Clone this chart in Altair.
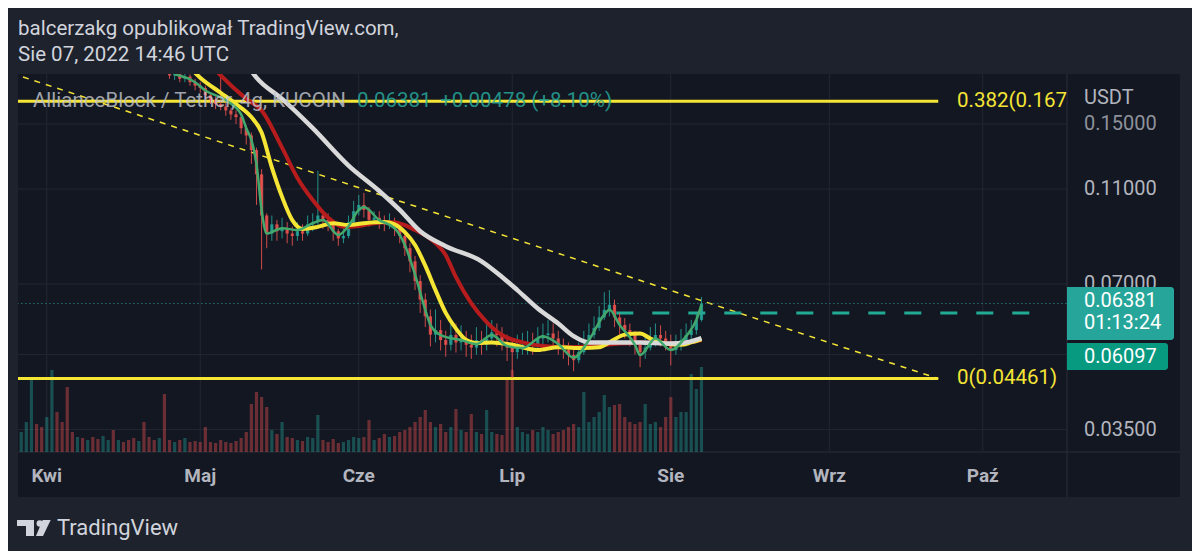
import altair as alt
import pandas as pd

# ---------------- texts ----------------
HEADER_1 = "balcerzakg opublikował TradingView.com,"
HEADER_2 = "Sie 07, 2022 14:46 UTC"
SYMBOL = "AllianceBlock / Tether, 4g, KUCOIN"
LAST_PRICE_TXT = "0.06381"
CHANGE_TXT = "+0.00478 (+8.10%)"
COUNTDOWN_TXT = "01:13:24"
LINE_PRICE_TXT = "0.06097"
FIB_TOP_TXT = "0.382(0.167"
FIB_BOT_TXT = "0(0.04461)"
CURRENCY = "USDT"
BRAND = "TradingView"
MONTHS_PL = ['Sty', 'Lut', 'Mar', 'Kwi', 'Maj', 'Cze', 'Lip', 'Sie', 'Wrz', 'Paź', 'Lis', 'Gru']
MONTH_TICKS = ["2022-04-01", "2022-05-01", "2022-06-01", "2022-07-01", "2022-08-01", "2022-09-01", "2022-10-01"]
PRICE_TICKS = [0.15, 0.11, 0.07, 0.05, 0.035]
PRICE_TICK_SHOWN = [True, True, True, False, True]

# ---------------- daily candles, 27 Mar .. 7 Aug 2022 ----------------
first_open = 0.255
closes = [0.262, 0.275, 0.290, 0.284, 0.270,
          0.281, 0.296, 0.288, 0.279, 0.268, 0.252, 0.256, 0.247, 0.251, 0.244,
          0.228, 0.233, 0.238, 0.231, 0.234, 0.229, 0.225, 0.219, 0.224, 0.215,
          0.208, 0.204, 0.207, 0.197, 0.189, 0.191, 0.186, 0.188, 0.183, 0.180,
          0.178, 0.172, 0.168, 0.165, 0.163, 0.160, 0.157, 0.155, 0.147, 0.142,
          0.1325, 0.118, 0.097, 0.089, 0.093, 0.090, 0.091, 0.089, 0.088, 0.090,
          0.089, 0.093, 0.094, 0.097, 0.095, 0.094, 0.090, 0.087, 0.088, 0.094, 0.099,
          0.102, 0.0996, 0.095, 0.096, 0.094, 0.093, 0.094, 0.091, 0.088, 0.083,
          0.078, 0.071, 0.065, 0.060, 0.055, 0.0562, 0.0536, 0.0524, 0.0549, 0.053,
          0.054, 0.0524, 0.0517, 0.0536, 0.0524, 0.054, 0.0556, 0.0549, 0.053, 0.0517,
          0.0506, 0.0517, 0.0524, 0.0527, 0.0524, 0.054, 0.0549, 0.0553, 0.054, 0.0524,
          0.0511, 0.0499, 0.0487, 0.0506, 0.0524, 0.0549, 0.0568, 0.0597, 0.0619, 0.0634,
          0.0597, 0.0576, 0.0562, 0.0549, 0.0524, 0.0506, 0.0517, 0.054, 0.0549, 0.054, 0.053,
          0.0511, 0.0524, 0.0536, 0.0549, 0.0562, 0.0590, 0.06381]
highs = [0.270, 0.282, 0.300, 0.295, 0.288,
         0.290, 0.310, 0.300, 0.292, 0.283, 0.270, 0.262, 0.259, 0.255, 0.254,
         0.246, 0.238, 0.242, 0.240, 0.238, 0.236, 0.231, 0.227, 0.228, 0.228,
         0.218, 0.211, 0.210, 0.209, 0.199, 0.194, 0.193, 0.191, 0.190, 0.186,
         0.183, 0.180, 0.174, 0.171, 0.187, 0.166, 0.162, 0.160, 0.157, 0.149,
         0.144, 0.134, 0.121, 0.098, 0.097, 0.095, 0.096, 0.094, 0.092, 0.094,
         0.093, 0.097, 0.098, 0.120, 0.099, 0.098, 0.095, 0.091, 0.092, 0.097, 0.104,
         0.107, 0.108, 0.101, 0.099, 0.099, 0.097, 0.098, 0.096, 0.093, 0.090,
         0.085, 0.080, 0.073, 0.067, 0.062, 0.062, 0.059, 0.056, 0.058, 0.058,
         0.0575, 0.056, 0.055, 0.057, 0.056, 0.058, 0.059, 0.058, 0.057, 0.055,
         0.054, 0.055, 0.0555, 0.056, 0.0555, 0.057, 0.058, 0.059, 0.058, 0.056,
         0.054, 0.053, 0.0515, 0.053, 0.056, 0.058, 0.060, 0.063, 0.0673, 0.068,
         0.065, 0.061, 0.0595, 0.058, 0.056, 0.0535, 0.055, 0.057, 0.058, 0.0575, 0.056,
         0.055, 0.055, 0.0565, 0.058, 0.059, 0.061, 0.0658]
lows = [0.250, 0.258, 0.270, 0.278, 0.265,
        0.266, 0.278, 0.283, 0.274, 0.262, 0.246, 0.247, 0.242, 0.244, 0.240,
        0.222, 0.225, 0.229, 0.227, 0.228, 0.226, 0.221, 0.213, 0.216, 0.212,
        0.204, 0.200, 0.201, 0.194, 0.186, 0.185, 0.183, 0.183, 0.180, 0.176,
        0.174, 0.169, 0.165, 0.161, 0.160, 0.156, 0.153, 0.150, 0.143, 0.136,
        0.124, 0.102, 0.075, 0.083, 0.086, 0.086, 0.087, 0.085, 0.084, 0.086,
        0.086, 0.088, 0.090, 0.092, 0.091, 0.090, 0.086, 0.084, 0.085, 0.087, 0.093,
        0.097, 0.096, 0.092, 0.093, 0.091, 0.090, 0.091, 0.088, 0.085, 0.080,
        0.074, 0.068, 0.061, 0.057, 0.052, 0.053, 0.051, 0.0495, 0.051, 0.0505,
        0.051, 0.0495, 0.049, 0.050, 0.050, 0.051, 0.053, 0.052, 0.051, 0.0485,
        0.0448, 0.049, 0.050, 0.050, 0.050, 0.0515, 0.052, 0.053, 0.052, 0.050,
        0.049, 0.0475, 0.0462, 0.048, 0.050, 0.052, 0.054, 0.056, 0.059, 0.060,
        0.057, 0.055, 0.054, 0.052, 0.050, 0.0471, 0.049, 0.051, 0.052, 0.052, 0.051,
        0.0475, 0.050, 0.051, 0.052, 0.053, 0.055, 0.0585]
volumes = [20, 30, 75, 28, 25,
           35, 82, 40, 30, 65, 20, 15, 14, 12, 15, 13, 16, 12, 22, 12, 10, 12, 14, 11, 30,
           15, 12, 14, 58, 12, 10, 12, 14, 10, 11,
           10, 25, 10, 9, 12, 10, 9, 11, 14, 20, 48, 60, 55, 45, 22, 18, 30, 15, 14, 12,
           11, 15, 14, 37, 12, 10, 13, 9, 10, 12, 15,
           14, 15, 32, 12, 14, 18, 15, 16, 20, 22, 25, 30, 35, 42, 30, 25, 28, 20, 25, 43,
           22, 20, 38, 20, 18, 42, 20, 18, 17, 75,
           82, 25, 20, 18, 22, 20, 25, 22, 18, 20, 22, 25, 28, 25, 60, 30, 35, 40, 57, 45,
           47, 48, 35, 30, 28, 30, 48, 28, 30, 25, 35,
           55, 35, 40, 40, 78, 63, 85]

# ---------------- moving averages ----------------
yellow_dates = ["2022-04-29", "2022-05-01", "2022-05-05", "2022-05-08", "2022-05-11", "2022-05-13",
                "2022-05-15", "2022-05-17", "2022-05-19", "2022-05-21", "2022-05-24", "2022-05-27",
                "2022-05-30", "2022-06-02", "2022-06-06", "2022-06-08", "2022-06-10", "2022-06-12",
                "2022-06-14", "2022-06-16", "2022-06-18", "2022-06-20", "2022-06-22", "2022-06-24",
                "2022-06-27", "2022-07-01", "2022-07-06", "2022-07-10", "2022-07-15", "2022-07-18",
                "2022-07-20", "2022-07-23", "2022-07-26", "2022-07-28", "2022-07-31", "2022-08-03",
                "2022-08-05", "2022-08-07"]
yellow_vals = [0.196, 0.187, 0.174, 0.165, 0.155, 0.144, 0.122, 0.106, 0.0949, 0.091, 0.0919, 0.0935,
               0.0927, 0.0935, 0.094, 0.093, 0.0896, 0.0843, 0.0764, 0.068, 0.061, 0.0566, 0.0536,
               0.0528, 0.053, 0.0524, 0.0511, 0.0518, 0.0516, 0.0518, 0.053, 0.055, 0.0553, 0.054,
               0.0527, 0.0524, 0.053, 0.0538]
red_dates = ["2022-05-03", "2022-05-05", "2022-05-10", "2022-05-13", "2022-05-17", "2022-05-20",
             "2022-05-23", "2022-05-26", "2022-05-29", "2022-06-01", "2022-06-04", "2022-06-07",
             "2022-06-10", "2022-06-12", "2022-06-15", "2022-06-18", "2022-06-20", "2022-06-23",
             "2022-06-26", "2022-06-29", "2022-07-03", "2022-07-07", "2022-07-12", "2022-07-17",
             "2022-07-22", "2022-07-28", "2022-08-02", "2022-08-07"]
red_vals = [0.199, 0.189, 0.169, 0.16, 0.134, 0.116, 0.1044, 0.096, 0.0919, 0.0923, 0.0935, 0.094,
            0.0927, 0.0905, 0.0868, 0.0803, 0.0723, 0.0638, 0.0584, 0.0549, 0.053, 0.0521, 0.0518,
            0.0521, 0.0527, 0.053, 0.0527, 0.0536]
white_dates = ["2022-05-10", "2022-05-12", "2022-05-17", "2022-05-23", "2022-05-30", "2022-06-05",
               "2022-06-09", "2022-06-13", "2022-06-18", "2022-06-25", "2022-06-29", "2022-07-02",
               "2022-07-06", "2022-07-10", "2022-07-13", "2022-07-16", "2022-07-20", "2022-07-26",
               "2022-08-01", "2022-08-04", "2022-08-07"]
white_vals = [0.200, 0.187, 0.169, 0.147, 0.123, 0.109, 0.0996, 0.090, 0.0838, 0.078, 0.0724, 0.068,
              0.0623, 0.058, 0.0546, 0.053, 0.053, 0.053, 0.0527, 0.053, 0.0541]
green_dates = ["2022-04-26", "2022-04-30", "2022-05-02", "2022-05-06", "2022-05-09", "2022-05-10",
               "2022-05-11", "2022-05-12", "2022-05-13", "2022-05-14", "2022-05-17", "2022-05-20",
               "2022-05-23", "2022-05-25", "2022-05-28", "2022-05-30", "2022-06-01", "2022-06-02",
               "2022-06-05", "2022-06-08", "2022-06-10", "2022-06-12", "2022-06-14", "2022-06-15",
               "2022-06-17", "2022-06-21", "2022-06-24", "2022-06-27", "2022-06-30", "2022-07-03",
               "2022-07-07", "2022-07-10", "2022-07-13", "2022-07-16", "2022-07-19", "2022-07-20",
               "2022-07-22", "2022-07-25", "2022-07-26", "2022-07-29", "2022-08-01", "2022-08-04",
               "2022-08-06", "2022-08-07"]
green_vals = [0.190, 0.183, 0.176, 0.168, 0.157, 0.147, 0.139, 0.124, 0.0996, 0.089, 0.0913, 0.0905,
              0.0935, 0.0949, 0.0884, 0.0923, 0.0996, 0.101, 0.0949, 0.0913, 0.0843, 0.0732, 0.0619,
              0.0576, 0.0549, 0.0536, 0.0526, 0.0549, 0.0521, 0.0516, 0.0546, 0.0526, 0.0493, 0.0536,
              0.0605, 0.0619, 0.0576, 0.0524, 0.0499, 0.054, 0.0511, 0.0546, 0.059, 0.0634]

# ---------------- drawn levels ----------------
fib_levels = [0.1671, 0.04461]
fib_span = ["2022-03-20T00:00:00", "2022-09-22T07:00:00"]
trend_dates = ["2022-03-27T08:24:00", "2022-09-22T07:00:00"]
trend_prices = [0.1876, 0.04461]
last_price = 0.06381
hline_price = 0.06097
hline_span = ["2022-07-21T08:24:00", "2022-10-12T14:30:00"]

assert len(closes) == len(highs) == len(lows) == len(volumes)

# ---------------- colours ----------------
BG_PANEL = "#131722"
BG_OUTER = "#1e222d"
GRID = "#232733"
SEP = "#2a2e39"
UP = "#26a69a"
DOWN = "#ef5350"
YELLOW = "#f5e535"
TXT = "#d1d4dc"
AX_TXT = "#b2b5be"

# ---------------- frames ----------------
days = pd.date_range("2022-03-27", periods=len(closes), freq="D")
opens = [first_open] + closes[:-1]
candles = pd.DataFrame({
    "date": days.strftime("%Y-%m-%dT%H:%M:%S"),
    "open": opens, "high": highs, "low": lows, "close": closes, "vol": volumes,
    "dir": ["up" if c >= o else "down" for o, c in zip(opens, closes)],
})

def ma_df(dates, vals):
    return pd.DataFrame({"date": [d + "T00:00:00" for d in dates], "v": vals})

ONE = pd.DataFrame({"k": [0]})
month_df = pd.DataFrame({"date": [d + "T00:00:00" for d in MONTH_TICKS],
                         "lab": [MONTHS_PL[int(d[5:7]) - 1] for d in MONTH_TICKS]})
price_tick_df = pd.DataFrame({"p": PRICE_TICKS,
                              "lab": [f"{v:.5f}" if s else "" for v, s in zip(PRICE_TICKS, PRICE_TICK_SHOWN)]})

TIME_SCALE = alt.Scale(domain=[alt.DateTime(year=2022, month=3, date=27, hours=8, minutes=24),
                               alt.DateTime(year=2022, month=10, date=16, hours=11, minutes=45)])
PRICE_SCALE = alt.Scale(type="log", domain=[0.03145, 0.1903], nice=False)
COLOR = alt.Color("dir:N", scale=alt.Scale(domain=["up", "down"], range=[UP, DOWN]), legend=None)

def X(field="date"):
    return alt.X(f"{field}:T", scale=TIME_SCALE, axis=None)

def Y(field):
    return alt.Y(f"{field}:Q", scale=PRICE_SCALE, axis=None)

def rect(x0, x1, y0, y1, color, **kw):
    return alt.Chart(ONE).mark_rect(color=color, **kw).encode(
        x=alt.value(x0), x2=alt.value(x1), y=alt.value(y0), y2=alt.value(y1))

def text(x, y, s, size, color, **kw):
    opts = dict(align="left", baseline="middle", font="Roboto")
    opts.update(kw)
    return alt.Chart(ONE).mark_text(text=s, fontSize=size, color=color, **opts).encode(
        x=alt.value(x), y=alt.value(y))

def vrule(x, y0, y1, color):
    return alt.Chart(ONE).mark_rule(color=color, strokeWidth=1).encode(
        x=alt.value(x), y=alt.value(y0), y2=alt.value(y1))

def hrule(y, x0, x1, color):
    return alt.Chart(ONE).mark_rule(color=color, strokeWidth=1).encode(
        y=alt.value(y), x=alt.value(x0), x2=alt.value(x1))

# ---------------- layers ----------------
frames = alt.layer(
    rect(-10, 1174, -66, 0, BG_OUTER),
    rect(-10, 0, 0, 423, BG_OUTER),
    rect(1162, 1174, 0, 477, BG_OUTER),
    rect(-10, 1174, 423, 477, BG_OUTER),
    vrule(1049, 0, 423, SEP),
    hrule(378, 0, 1162, SEP),
)

# grid + tick labels drawn through the scales
grid_x = alt.Chart(month_df).mark_rule(color=GRID, strokeWidth=1).encode(
    x=X(), y=alt.value(0), y2=alt.value(378))
grid_y = alt.Chart(price_tick_df).mark_rule(color=GRID, strokeWidth=1).encode(
    y=Y("p"), x=alt.value(0), x2=alt.value(1049))
x_labels = alt.Chart(month_df).mark_text(font="Roboto", fontSize=19, fontWeight="bold", color=AX_TXT,
                                         align="center", baseline="middle").encode(
    x=X(), y=alt.value(402), text="lab:N")
y_labels = alt.Chart(price_tick_df).mark_text(font="Roboto", fontSize=20,
                                              align="left", baseline="middle").encode(
    y=Y("p"), x=alt.value(1066), text="lab:N",
    color=alt.condition(alt.datum.p == 0.15, alt.value("#8f929b"), alt.value(AX_TXT)))
grid = alt.layer(grid_x, grid_y)

volume = alt.Chart(candles).mark_bar(size=3.2, opacity=0.4, clip=True).encode(
    x=X(), y=alt.Y("vol:Q", scale=alt.Scale(domain=[0, 378]), axis=None), color=COLOR)

fib_df = pd.DataFrame({"d0": [fib_span[0]] * 2, "d1": [fib_span[1]] * 2, "p": fib_levels})
fib = alt.Chart(fib_df).mark_rule(color=YELLOW, strokeWidth=3, clip=True).encode(
    x=X("d0"), x2="d1:T", y=Y("p"))

trend = alt.Chart(pd.DataFrame({"date": trend_dates, "v": trend_prices})).mark_line(
    color=YELLOW, strokeWidth=1.5, strokeDash=[6, 6], clip=True).encode(x=X(), y=Y("v"))

dotted = alt.Chart(pd.DataFrame({"d0": ["2022-03-20T00:00:00"], "d1": ["2022-10-20T00:00:00"],
                                 "p": [last_price]})).mark_rule(
    color=UP, strokeWidth=1, strokeDash=[1, 3], clip=True).encode(x=X("d0"), x2="d1:T", y=Y("p"))

dashed = alt.Chart(pd.DataFrame({"d0": [hline_span[0]], "d1": [hline_span[1]], "p": [hline_price]})).mark_rule(
    color="#22ab94", strokeWidth=3, strokeDash=[17, 19], clip=True).encode(x=X("d0"), x2="d1:T", y=Y("p"))

wicks = alt.Chart(candles).mark_rule(strokeWidth=1, opacity=0.85, clip=True).encode(
    x=X(), y=Y("low"), y2="high:Q", color=COLOR)
bodies = alt.Chart(candles).mark_bar(size=3.2, opacity=0.85, clip=True).encode(
    x=X(), y=Y("open"), y2="close:Q", color=COLOR)

def ma(dates, vals, color, width):
    return alt.Chart(ma_df(dates, vals)).mark_line(
        color=color, strokeWidth=width, interpolate="monotone", clip=True).encode(x=X(), y=Y("v"))

red_ma = ma(red_dates, red_vals, "#b71c1c", 4)
yellow_ma = ma(yellow_dates, yellow_vals, YELLOW, 4)
white_ma = ma(white_dates, white_vals, "#d9d9d9", 4.5)
green_ma = ma(green_dates, green_vals, "#43a86b", 2.5)

price = alt.layer(fib, trend, dotted, dashed, wicks, bodies, red_ma, yellow_ma, white_ma, green_ma,
                  y_labels, x_labels)

labels = alt.layer(
    text(15, 27, SYMBOL, 20.5, "#c3c6ce", opacity=0.8),
    text(339, 27, LAST_PRICE_TXT, 20.5, UP, opacity=0.85),
    text(422, 27, CHANGE_TXT, 20.5, UP, opacity=0.85),
    text(939, 27, FIB_TOP_TXT, 20.5, YELLOW),
    text(939, 304, FIB_BOT_TXT, 20.5, YELLOW),
    text(1066, 24, CURRENCY, 20, AX_TXT),
    rect(1049, 1156, 213, 266, "#26a69a", cornerRadiusTopRight=3, cornerRadiusBottomRight=3),
    rect(1049, 1150, 269, 296, "#089981", cornerRadiusTopRight=3, cornerRadiusBottomRight=3),
    text(1066, 227, LAST_PRICE_TXT, 20, "#ffffff"),
    text(1066, 249, COUNTDOWN_TXT, 20, "#ffffff"),
    text(1066, 282.5, LINE_PRICE_TXT, 20, "#ffffff"),
    text(0, -45, HEADER_1, 20.5, TXT),
    text(0, -19, HEADER_2, 20.5, TXT),
    rect(-1, 16, 446, 452, TXT),
    rect(8, 16, 446, 462, TXT),
    alt.Chart(ONE).mark_point(filled=True, color=TXT, opacity=1, size=40, shape="circle").encode(
        x=alt.value(21.7), y=alt.value(449.5)),
    alt.Chart(ONE).mark_point(filled=True, color=TXT, opacity=1, size=256,
                              shape="M -0.1 -1 L 0.9 -1 L -0.06 1 L -0.94 1 Z").encode(
        x=alt.value(25.5), y=alt.value(454)),
    text(39, 454, BRAND, 22, TXT),
)

chart = alt.layer(frames, grid, volume, price, labels).resolve_scale(y="independent").properties(
    width=1049, height=378,
    padding={"left": 10, "top": 66, "right": 125, "bottom": 99},
    autosize=alt.AutoSizeParams(type="none"),
).configure(background=BG_PANEL).configure_view(stroke=None)

chart.save("out.html", embed_options={"renderer": "svg", "actions": False})
